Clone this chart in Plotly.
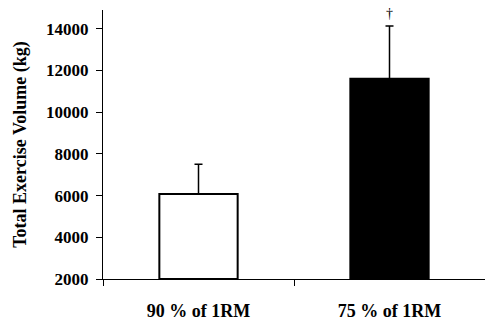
import plotly.graph_objects as go

categories = ["90 % of 1RM", "75 % of 1RM"]
means = [6080, 11600]
sd_plus = [1420, 2530]
fills = ["white", "black"]
yticks = [2000, 4000, 6000, 8000, 10000, 12000, 14000]
ytick_labels = ["2000", "4000", "6000", "8000", "10000", "12000", "14000"]
marker_symbol = "†"

font_family = "Liberation Serif, Times New Roman, serif"

fig = go.Figure()
fig.add_trace(go.Bar(
    x=categories, y=[m - 2000 for m in means], base=2000,
    marker=dict(color=fills, line=dict(color="black", width=2)),
    width=0.41,
    error_y=dict(type="data", array=sd_plus, arrayminus=[0, 0], symmetric=False,
                 color="black", thickness=1.5, width=4),
))
fig.add_annotation(x=categories[1], y=means[1] + sd_plus[1], text=marker_symbol,
                   showarrow=False, yshift=13, font=dict(size=14, color="black", family=font_family))

fig.update_layout(
    width=485, height=320,
    margin=dict(l=103, r=0, t=10, b=41, autoexpand=False),
    plot_bgcolor="white", paper_bgcolor="white",
    showlegend=False,
    font=dict(family=font_family, color="black"),
    xaxis=dict(showline=True, linecolor="black", linewidth=1, ticks="outside",
               tickson="boundaries", ticklen=6, tickcolor="black",
               tickfont=dict(size=18, family=font_family, weight="bold"),
               ticklabelstandoff=15, showgrid=False),
    yaxis=dict(range=[2000, 14900], tickvals=yticks, ticktext=ytick_labels, showline=True,
               linecolor="black", linewidth=1, ticks="outside", ticklen=6, tickcolor="black",
               tickfont=dict(size=17, family=font_family, weight="bold"),
               ticklabelstandoff=4,
               showgrid=False, zeroline=False,
               title=dict(text="Total Exercise Volume (kg)", standoff=14,
                          font=dict(size=18, family=font_family, weight="bold"))),
)
fig.write_html("out.html", config={"displayModeBar": False},
               post_script="document.body.style.margin='0';")
